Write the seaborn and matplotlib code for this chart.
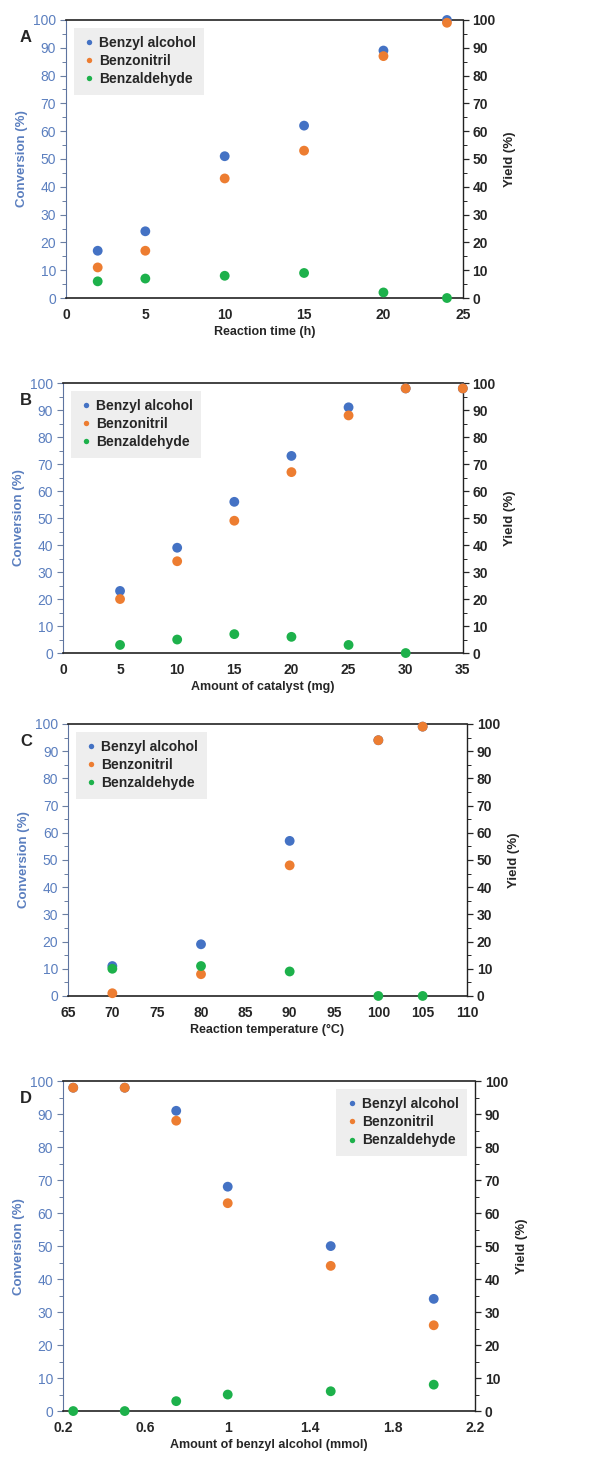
import pandas as pd
import matplotlib.pyplot as plt
import seaborn as sns
import numpy as np
from matplotlib.ticker import MultipleLocator

# === Data ===
time_h = [2, 5, 10, 15, 20, 24]
time_alcohol = [17, 24, 51, 62, 89, 100]
time_nitril = [11, 17, 43, 53, 87, 99]
time_aldehyde = [6, 7, 8, 9, 2, 0]

cat_mg = [5, 10, 15, 20, 25, 30, 35]
cat_alcohol = [23, 39, 56, 73, 91, 98, 98]
cat_nitril = [20, 34, 49, 67, 88, 98, 98]
cat_aldehyde = [3, 5, 7, 6, 3, 0, np.nan]

temp_c = [70, 80, 90, 100, 105]
temp_alcohol = [11, 19, 57, 94, 99]
temp_nitril = [1, 8, 48, 94, 99]
temp_aldehyde = [10, 11, 9, 0, 0]

amount_mmol = [0.25, 0.5, 0.75, 1, 1.5, 2]
amount_alcohol = [98, 98, 91, 68, 50, 34]
amount_nitril = [98, 98, 88, 63, 44, 26]
amount_aldehyde = [0, 0, 3, 5, 6, 8]

compounds = ["Benzyl alcohol", "Benzonitril", "Benzaldehyde"]
palette = {"Benzyl alcohol": "#4472C4", "Benzonitril": "#ED7D31", "Benzaldehyde": "#1DB14B"}

panels = [
    ("A", "Reaction time (h)", time_h, [time_alcohol, time_nitril, time_aldehyde],
     (0, 25), 5, 1, [0.109, 0.7956, 0.656, 0.1907], "upper left"),
    ("B", "Amount of catalyst (mg)", cat_mg, [cat_alcohol, cat_nitril, cat_aldehyde],
     (0, 35), 5, 1, [0.104, 0.5521, 0.661, 0.1852], "upper left"),
    ("C", "Reaction temperature (°C)", temp_c, [temp_alcohol, temp_nitril, temp_aldehyde],
     (65, 110), 5, 1, [0.1124, 0.3169, 0.6595, 0.1866], "upper left"),
    ("D", "Amount of benzyl alcohol (mmol)", amount_mmol, [amount_alcohol, amount_nitril, amount_aldehyde],
     (0.2, 2.2), 0.4, 0.1, [0.104, 0.0322, 0.681, 0.2263], "upper right"),
]

sns.set_style("white")
plt.rcParams["font.family"] = ["Liberation Sans", "DejaVu Sans"]

blue_txt = "#5B7FBF"
fig = plt.figure(figsize=(6.05, 14.58), dpi=100)

for letter, xlabel, xs, series, xlim, major, minor, rect, loc in panels:
    rows = []
    for name, vals in zip(compounds, series):
        for x, v in zip(xs, vals):
            rows.append({"x": x, "value": v, "compound": name})
    df = pd.DataFrame(rows).dropna()

    ax = fig.add_axes(rect)
    sns.scatterplot(data=df, x="x", y="value", hue="compound", hue_order=compounds,
                    palette=palette, s=50, linewidth=0, ax=ax, clip_on=False, zorder=3)
    ax.set_xlim(*xlim)
    ax.set_ylim(0, 100)
    ax.xaxis.set_major_locator(MultipleLocator(major))
    ax.xaxis.set_minor_locator(MultipleLocator(minor))
    ax.yaxis.set_major_locator(MultipleLocator(10))
    ax.yaxis.set_minor_locator(MultipleLocator(5))
    if letter == "D":
        ax.set_xticks(np.arange(0.2, 2.21, 0.4))
        ax.set_xticklabels(["0.2", "0.6", "1", "1.4", "1.8", "2.2"])
    ax.tick_params(axis="x", which="major", direction="out", length=4, width=1,
                   labelsize=10, pad=3)
    ax.tick_params(axis="x", which="minor", direction="out", length=3, width=0.9)
    ax.tick_params(axis="y", which="major", direction="out", length=4, width=0.8,
                   labelsize=10, labelcolor=blue_txt, color="#6B7FA3", pad=3)
    ax.tick_params(axis="y", which="minor", direction="out", length=3, width=0.7, color="#6B7FA3")
    for lab in ax.get_xticklabels():
        lab.set_fontweight("bold")
    ax.set_xlabel(xlabel, fontsize=9, fontweight="bold", labelpad=3)
    ax.set_ylabel("Conversion (%)", fontsize=9.5, fontweight="bold", color=blue_txt, labelpad=4)
    for side in ["top", "bottom"]:
        ax.spines[side].set_color("#222222")
        ax.spines[side].set_linewidth(1.2)
    ax.spines["left"].set_color("#5E74A0")
    ax.spines["right"].set_visible(False)

    ax2 = ax.twinx()
    ax2.set_ylim(0, 100)
    ax2.yaxis.set_major_locator(MultipleLocator(10))
    ax2.yaxis.set_minor_locator(MultipleLocator(5))
    ax2.tick_params(axis="y", which="major", direction="out", length=4, width=0.9,
                    labelsize=10, pad=3)
    ax2.tick_params(axis="y", which="minor", direction="out", length=3, width=0.7)
    for lab in ax2.get_yticklabels():
        lab.set_fontweight("bold")
    ax2.set_ylabel("Yield (%)", fontsize=9.5, fontweight="bold", labelpad=6)
    ax2.spines["right"].set_color("#222222")
    ax2.spines["right"].set_linewidth(1.0)
    for side in ["top", "bottom", "left"]:
        ax2.spines[side].set_visible(False)

    leg = ax.legend(loc=loc, frameon=True, facecolor="#EEEEEE", edgecolor="none",
                    framealpha=1, markerscale=0.55, handlelength=1.0, handletextpad=0.25,
                    labelspacing=0.3, borderpad=0.6, borderaxespad=0.55, fancybox=False,
                    prop={"weight": "bold", "size": 10},
                    bbox_to_anchor=(0, 1) if loc == "upper left" else (1, 1))
    leg.set_zorder(1)
    ax.set_zorder(ax2.get_zorder() + 1)
    ax.patch.set_visible(False)

    fig.text(20 / 605, rect[1] + rect[3] - 0.012, letter, fontsize=12, fontweight="bold",
             ha="left", va="center")

fig.savefig("out.png", dpi=100)
